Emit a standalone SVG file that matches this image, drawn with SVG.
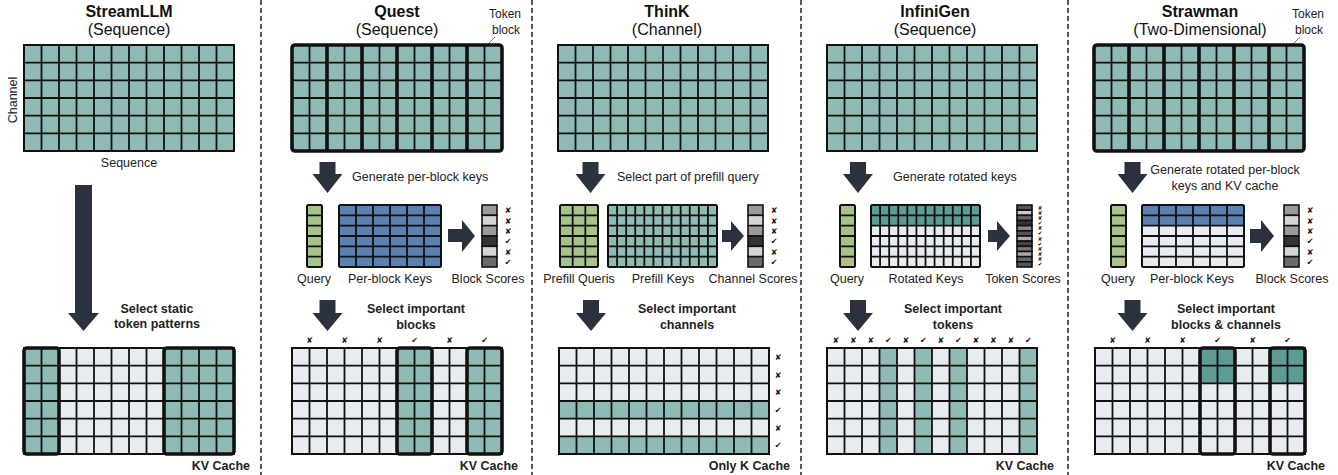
<svg xmlns="http://www.w3.org/2000/svg" xmlns:xlink="http://www.w3.org/1999/xlink" width="1338" height="475" viewBox="0 0 1338 475">
<style>
.ln{fill:none;stroke:#111;stroke-width:1.8}
.ob{fill:none;stroke:#111;stroke-width:2}
.tk{fill:none;stroke:#111;stroke-width:3.6}
.sc{stroke:#111;stroke-width:1.6}
.tl{fill:#8fbab5}
.dt{fill:#5c9c94}
.lt{fill:#e8ebf0}
.gr{fill:#a6c48a}
.bl{fill:#5b80b2}
.t{font-family:"Liberation Sans",Arial,sans-serif;font-size:12.5px;fill:#222}
.m{text-anchor:middle}
.e{text-anchor:end}
.b{font-weight:bold}
.ti{font-size:16px;fill:#111}
.sm{font-size:12px}
.ar{fill:#2c3140}
.ck{font-family:"DejaVu Sans",sans-serif;font-size:8px;fill:#111;text-anchor:middle}
.ck2{font-family:"DejaVu Sans",sans-serif;font-size:5.5px;fill:#111;text-anchor:middle}
.sep{stroke:#222;stroke-width:1.5;stroke-dasharray:5 3}
.lead{stroke:#555;stroke-width:0.8;fill:none}
</style>
<defs>
<path id="L12" class="ln" d="M17.5 0V106M35 0V106M52.5 0V106M70 0V106M87.5 0V106M105 0V106M122.5 0V106M140 0V106M157.5 0V106M175 0V106M192.5 0V106M0 17.67H210M0 35.33H210M0 53H210M0 70.67H210M0 88.33H210"/>
<path id="BK" class="tk" d="M35 0V106M70 0V106M105 0V106M140 0V106M175 0V106"/>
<path id="L1" class="ln" d="M0 10.33H15M0 20.67H15M0 31H15M0 41.33H15M0 51.67H15"/>
<path id="L6" class="ln" d="M17 0V62M34 0V62M51 0V62M68 0V62M85 0V62M0 10.33H102M0 20.67H102M0 31H102M0 41.33H102M0 51.67H102"/>
<path id="L3" class="ln" d="M12.67 0V62M25.33 0V62M0 10.33H38M0 20.67H38M0 31H38M0 41.33H38M0 51.67H38"/>
<path id="L12s" class="ln" d="M9.08 0V62M18.17 0V62M27.25 0V62M36.33 0V62M45.42 0V62M54.5 0V62M63.58 0V62M72.67 0V62M81.75 0V62M90.83 0V62M99.92 0V62M0 10.33H109M0 20.67H109M0 31H109M0 41.33H109M0 51.67H109"/>
<g id="SC">
<rect class="sc" x="0" y="0" width="15" height="10.33" fill="#9a9a9a"/>
<rect class="sc" x="0" y="10.33" width="15" height="10.33" fill="#d4d4d4"/>
<rect class="sc" x="0" y="20.67" width="15" height="10.33" fill="#9a9a9a"/>
<rect class="sc" x="0" y="31" width="15" height="10.33" fill="#333"/>
<rect class="sc" x="0" y="41.33" width="15" height="10.33" fill="#d4d4d4"/>
<rect class="sc" x="0" y="51.67" width="15" height="10.33" fill="#6a6a6a"/>
<text class="ck" x="26" y="8.2">✘</text>
<text class="ck" x="26" y="18.5">✘</text>
<text class="ck" x="26" y="28.8">✘</text>
<text class="ck" x="26" y="39.2">✔</text>
<text class="ck" x="26" y="49.5">✘</text>
<text class="ck" x="26" y="59.8">✔</text>
</g>
<g id="QY">
<rect class="gr" x="0" y="0" width="15" height="62"/>
<use xlink:href="#L1"/>
<rect class="ob" x="0" y="0" width="15" height="62" rx="1.5"/>
</g>
</defs>

<!-- separators -->
<g id="separators">
<line class="sep" x1="261" y1="0" x2="261" y2="475"/>
<line class="sep" x1="532" y1="0" x2="532" y2="475"/>
<line class="sep" x1="801" y1="0" x2="801" y2="475"/>
<line class="sep" x1="1068" y1="0" x2="1068" y2="475"/>
</g>

<!-- titles -->
<g id="titles">
<text class="t b ti m" x="129" y="17">StreamLLM</text>
<text class="t ti m" x="129" y="35">(Sequence)</text>
<text class="t b ti m" x="397" y="17">Quest</text>
<text class="t ti m" x="397" y="35">(Sequence)</text>
<text class="t b ti m" x="667" y="17">ThinK</text>
<text class="t ti m" x="667" y="35">(Channel)</text>
<text class="t b ti m" x="935" y="17">InfiniGen</text>
<text class="t ti m" x="935" y="35">(Sequence)</text>
<text class="t b ti m" x="1200" y="17">Strawman</text>
<text class="t ti m" x="1200" y="35">(Two-Dimensional)</text>
<text class="t sm m" x="505" y="18">Token</text>
<text class="t sm m" x="506" y="34">block</text>
<line class="lead" x1="488" y1="44" x2="495" y2="37"/>
<text class="t sm m" x="1308" y="18">Token</text>
<text class="t sm m" x="1309" y="34">block</text>
<line class="lead" x1="1293" y1="44" x2="1300" y2="37"/>
</g>

<!-- StreamLLM -->
<g id="streamllm-top" transform="translate(24,45)">
<rect class="tl" x="0" y="0" width="210" height="106"/>
<use xlink:href="#L12"/>
<rect class="ob" x="0" y="0" width="210" height="106"/>
</g>
<text class="t" transform="translate(17,100) rotate(-90)" text-anchor="middle">Channel</text>
<text class="t m" x="129" y="167">Sequence</text>
<g id="streamllm-bottom" transform="translate(24,348)">
<rect class="lt" x="0" y="0" width="210" height="106"/>
<rect class="tl" x="0" y="0" width="35" height="106"/>
<rect class="tl" x="140" y="0" width="70" height="106"/>
<use xlink:href="#L12"/>
<rect class="ob" x="0" y="0" width="210" height="106"/>
<rect class="tk" x="0" y="0" width="35" height="106" rx="3"/>
<rect class="tk" x="140" y="0" width="70" height="106" rx="3"/>
</g>
<text class="t b m" x="157" y="313">Select static</text>
<text class="t b m" x="157" y="328">token patterns</text>
<text class="t b e" x="250" y="470">KV Cache</text>

<!-- Quest -->
<g id="quest-top" transform="translate(292,45)">
<rect class="tl" x="0" y="0" width="210" height="106"/>
<use xlink:href="#L12"/>
<use xlink:href="#BK"/>
<rect class="tk" x="0" y="0" width="210" height="106" rx="3"/>
</g>
<text class="t" x="352" y="181">Generate per-block keys</text>
<g id="quest-query" transform="translate(307,205)"><use xlink:href="#QY"/></g>
<g id="quest-keys" transform="translate(339,205)">
<rect class="bl" x="0" y="0" width="102" height="62"/>
<use xlink:href="#L6"/>
<rect class="ob" x="0" y="0" width="102" height="62" rx="1.5"/>
</g>
<g id="quest-scores" transform="translate(482,205)"><use xlink:href="#SC"/></g>
<text class="t m" x="314" y="283">Query</text>
<text class="t m" x="390" y="283">Per-block Keys</text>
<text class="t m" x="488" y="283">Block Scores</text>
<g id="quest-bottom" transform="translate(292,348)">
<rect class="lt" x="0" y="0" width="210" height="106"/>
<rect class="tl" x="105" y="0" width="35" height="106"/>
<rect class="tl" x="175" y="0" width="35" height="106"/>
<use xlink:href="#L12"/>
<rect class="ob" x="0" y="0" width="210" height="106"/>
<rect class="tk" x="105" y="0" width="35" height="106" rx="3"/>
<rect class="tk" x="175" y="0" width="35" height="106" rx="3"/>
</g>
<g id="quest-checks">
<text class="ck" x="309.5" y="343">✘</text>
<text class="ck" x="344.5" y="343">✘</text>
<text class="ck" x="379.5" y="343">✘</text>
<text class="ck" x="414.5" y="343">✔</text>
<text class="ck" x="449.5" y="343">✘</text>
<text class="ck" x="484.5" y="343">✔</text>
</g>
<text class="t b m" x="416" y="313">Select important</text>
<text class="t b m" x="416" y="329">blocks</text>
<text class="t b e" x="518" y="470">KV Cache</text>

<!-- ThinK -->
<g id="think-top" transform="translate(558,45)">
<rect class="tl" x="0" y="0" width="210" height="106"/>
<use xlink:href="#L12"/>
<rect class="ob" x="0" y="0" width="210" height="106"/>
</g>
<text class="t" x="617" y="181">Select part of prefill query</text>
<g id="think-queries" transform="translate(560,205)">
<rect class="gr" x="0" y="0" width="38" height="62"/>
<use xlink:href="#L3"/>
<rect class="ob" x="0" y="0" width="38" height="62" rx="1.5"/>
</g>
<g id="think-keys" transform="translate(608,205)">
<rect class="tl" x="0" y="0" width="109" height="62"/>
<use xlink:href="#L12s"/>
<rect class="ob" x="0" y="0" width="109" height="62" rx="1.5"/>
</g>
<g id="think-scores" transform="translate(748,205)"><use xlink:href="#SC"/></g>
<text class="t m" x="579" y="283">Prefill Queris</text>
<text class="t m" x="663" y="283">Prefill Keys</text>
<text class="t m" x="753" y="283">Channel Scores</text>
<g id="think-bottom" transform="translate(559,348)">
<rect class="lt" x="0" y="0" width="210" height="106"/>
<rect class="tl" x="0" y="53" width="210" height="17.67"/>
<rect class="tl" x="0" y="88.33" width="210" height="17.67"/>
<use xlink:href="#L12"/>
<rect class="ob" x="0" y="0" width="210" height="106"/>
</g>
<g id="think-checks">
<text class="ck" x="778" y="360">✘</text>
<text class="ck" x="778" y="377.5">✘</text>
<text class="ck" x="778" y="395.2">✘</text>
<text class="ck" x="778" y="412.8">✔</text>
<text class="ck" x="778" y="430.5">✘</text>
<text class="ck" x="778" y="448.2">✔</text>
</g>
<text class="t b m" x="687" y="313">Select important</text>
<text class="t b m" x="687" y="329">channels</text>
<text class="t b e" x="790" y="470">Only K Cache</text>

<!-- InfiniGen -->
<g id="infinigen-top" transform="translate(827,45)">
<rect class="tl" x="0" y="0" width="210" height="106"/>
<use xlink:href="#L12"/>
<rect class="ob" x="0" y="0" width="210" height="106"/>
</g>
<text class="t" x="893" y="181">Generate rotated keys</text>
<g id="infinigen-query" transform="translate(840,205)"><use xlink:href="#QY"/></g>
<g id="infinigen-keys" transform="translate(871,205)">
<rect class="lt" x="0" y="0" width="109" height="62"/>
<rect class="dt" x="0" y="0" width="109" height="20.67"/>
<use xlink:href="#L12s"/>
<rect class="ob" x="0" y="0" width="109" height="62" rx="1.5"/>
</g>
<g id="infinigen-scores" transform="translate(1017,205)">
<rect class="sc" x="0" y="0" width="15" height="5.17" fill="#555"/>
<rect class="sc" x="0" y="5.17" width="15" height="5.17" fill="#ccc"/>
<rect class="sc" x="0" y="10.33" width="15" height="5.17" fill="#666"/>
<rect class="sc" x="0" y="15.5" width="15" height="5.17" fill="#333"/>
<rect class="sc" x="0" y="20.67" width="15" height="5.17" fill="#888"/>
<rect class="sc" x="0" y="25.83" width="15" height="5.17" fill="#555"/>
<rect class="sc" x="0" y="31" width="15" height="5.17" fill="#aaa"/>
<rect class="sc" x="0" y="36.17" width="15" height="5.17" fill="#444"/>
<rect class="sc" x="0" y="41.33" width="15" height="5.17" fill="#777"/>
<rect class="sc" x="0" y="46.5" width="15" height="5.17" fill="#aaa"/>
<rect class="sc" x="0" y="51.67" width="15" height="5.17" fill="#666"/>
<rect class="sc" x="0" y="56.83" width="15" height="5.17" fill="#555"/>
<text class="ck2" x="23" y="4.6">✘</text>
<text class="ck2" x="23" y="9.8">✘</text>
<text class="ck2" x="23" y="14.9">✘</text>
<text class="ck2" x="23" y="20.1">✔</text>
<text class="ck2" x="23" y="25.3">✘</text>
<text class="ck2" x="23" y="30.4">✔</text>
<text class="ck2" x="23" y="35.6">✘</text>
<text class="ck2" x="23" y="40.8">✔</text>
<text class="ck2" x="23" y="45.9">✘</text>
<text class="ck2" x="23" y="51.1">✘</text>
<text class="ck2" x="23" y="56.3">✘</text>
<text class="ck2" x="23" y="61.4">✔</text>
</g>
<text class="t m" x="847" y="283">Query</text>
<text class="t m" x="926" y="283">Rotated Keys</text>
<text class="t m" x="1023" y="283">Token Scores</text>
<g id="infinigen-bottom" transform="translate(827,348)">
<rect class="lt" x="0" y="0" width="210" height="106"/>
<rect class="tl" x="52.5" y="0" width="17.5" height="106"/>
<rect class="tl" x="87.5" y="0" width="17.5" height="106"/>
<rect class="tl" x="122.5" y="0" width="17.5" height="106"/>
<rect class="tl" x="192.5" y="0" width="17.5" height="106"/>
<use xlink:href="#L12"/>
<rect class="ob" x="0" y="0" width="210" height="106"/>
</g>
<g id="infinigen-checks">
<text class="ck" x="835.75" y="343">✘</text>
<text class="ck" x="853.25" y="343">✘</text>
<text class="ck" x="870.75" y="343">✘</text>
<text class="ck" x="888.25" y="343">✔</text>
<text class="ck" x="905.75" y="343">✘</text>
<text class="ck" x="923.25" y="343">✔</text>
<text class="ck" x="940.75" y="343">✘</text>
<text class="ck" x="958.25" y="343">✔</text>
<text class="ck" x="975.75" y="343">✘</text>
<text class="ck" x="993.25" y="343">✘</text>
<text class="ck" x="1010.75" y="343">✘</text>
<text class="ck" x="1028.25" y="343">✔</text>
</g>
<text class="t b m" x="953" y="313">Select important</text>
<text class="t b m" x="953" y="329">tokens</text>
<text class="t b e" x="1054" y="470">KV Cache</text>

<!-- Strawman -->
<g id="strawman-top" transform="translate(1094,45)">
<rect class="tl" x="0" y="0" width="210" height="106"/>
<use xlink:href="#L12"/>
<use xlink:href="#BK"/>
<rect class="tk" x="0" y="0" width="210" height="106" rx="3"/>
</g>
<text class="t m" x="1225" y="174">Generate rotated per-block</text>
<text class="t m" x="1225" y="190">keys and KV cache</text>
<g id="strawman-query" transform="translate(1111,205)"><use xlink:href="#QY"/></g>
<g id="strawman-keys" transform="translate(1142,205)">
<rect class="lt" x="0" y="0" width="102" height="62"/>
<rect class="bl" x="0" y="0" width="102" height="20.67"/>
<use xlink:href="#L6"/>
<rect class="ob" x="0" y="0" width="102" height="62" rx="1.5"/>
</g>
<g id="strawman-scores" transform="translate(1284,205)"><use xlink:href="#SC"/></g>
<text class="t m" x="1118" y="283">Query</text>
<text class="t m" x="1192" y="283">Per-block Keys</text>
<text class="t m" x="1292" y="283">Block Scores</text>
<g id="strawman-bottom" transform="translate(1095,348)">
<rect class="lt" x="0" y="0" width="210" height="106"/>
<rect class="dt" x="105" y="0" width="35" height="35.33"/>
<rect class="dt" x="175" y="0" width="35" height="35.33"/>
<use xlink:href="#L12"/>
<rect class="ob" x="0" y="0" width="210" height="106"/>
<rect class="tk" x="105" y="0" width="35" height="106" rx="3"/>
<rect class="tk" x="175" y="0" width="35" height="106" rx="3"/>
</g>
<g id="strawman-checks">
<text class="ck" x="1112.5" y="343">✘</text>
<text class="ck" x="1147.5" y="343">✘</text>
<text class="ck" x="1182.5" y="343">✘</text>
<text class="ck" x="1217.5" y="343">✔</text>
<text class="ck" x="1252.5" y="343">✘</text>
<text class="ck" x="1287.5" y="343">✔</text>
</g>
<text class="t b m" x="1226" y="313">Select important</text>
<text class="t b m" x="1226" y="329">blocks &amp; channels</text>
<text class="t b e" x="1325" y="470">KV Cache</text>

<!-- connectors (arrows) -->
<g id="connectors" class="ar">
<polygon points="75,185 92,185 92,313 99,313 83.5,331 68,313 75,313"/>
<polygon points="319.5,162 335.5,162 335.5,174 342.5,174 327.5,193 312.5,174 319.5,174"/>
<polygon points="319.5,300 335.5,300 335.5,313 342.5,313 327.5,331 312.5,313 319.5,313"/>
<polygon points="448,229 462,229 462,220 475,236 462,252 462,242 448,242"/>
<polygon points="582.5,162 598.5,162 598.5,174 605.5,174 590.5,193 575.5,174 582.5,174"/>
<polygon points="583,300 599,300 599,313 606,313 591,331 576,313 583,313"/>
<polygon points="722,230 731,230 731,221 744,236 731,251 731,242 722,242"/>
<polygon points="850,162 866,162 866,174 873,174 858,193 843,174 850,174"/>
<polygon points="850,300 866,300 866,313 873,313 858,331 843,313 850,313"/>
<polygon points="988,230 997,230 997,221 1010,236 997,251 997,242 988,242"/>
<polygon points="1124.5,162 1140.5,162 1140.5,174 1147.5,174 1132.5,193 1117.5,174 1124.5,174"/>
<polygon points="1124.5,300 1140.5,300 1140.5,313 1147.5,313 1132.5,331 1117.5,313 1124.5,313"/>
<polygon points="1250,229 1261,229 1261,220 1274,236 1261,252 1261,243 1250,243"/>
</g>
</svg>
